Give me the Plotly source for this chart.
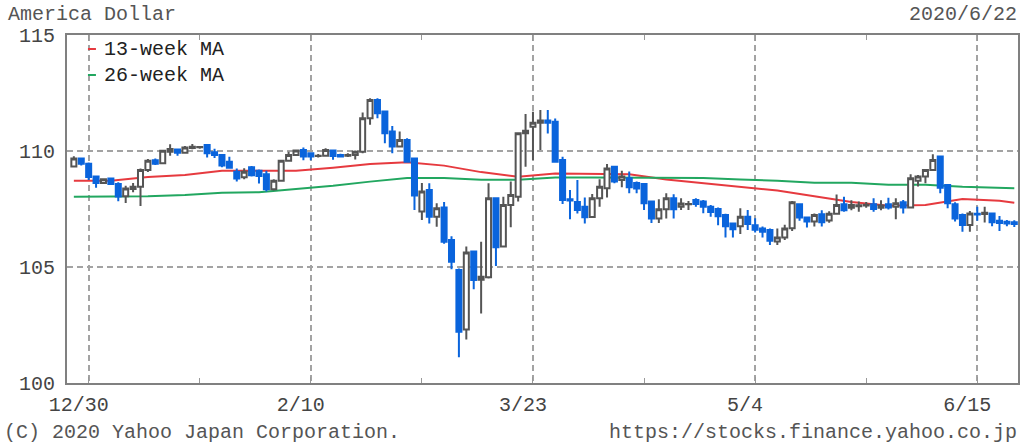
import pandas as pd
import plotly.graph_objects as go

# ---------------- data ----------------
dates = [d.strftime('%Y-%m-%d') for d in pd.bdate_range('2019-12-26', '2020-06-22')]

open_ = [
    109.33, 109.68,
    109.45, 108.90, 108.62, 108.82, 108.58,
    108.05, 108.36, 108.46, 109.18, 109.60,
    109.47, 109.97, 110.06, 109.92, 110.13,
    110.16, 110.26, 109.95, 109.83, 109.54,
    109.11, 108.87, 109.30, 109.15, 109.00,
    108.35, 108.72, 109.58, 109.83, 110.04,
    109.90, 109.78, 109.80, 110.02, 109.83,
    109.80, 109.83, 109.97, 111.41, 112.20,
    111.70, 110.84, 110.19, 110.47, 109.68,
    107.39, 108.32, 107.17, 107.57, 106.16,
    104.87, 102.31, 105.67, 104.45, 104.56,
    107.96, 105.88, 107.67, 108.03, 110.76,
    111.05, 111.22, 111.31, 111.26, 109.61,
    107.92, 107.80, 107.60, 107.16, 107.96,
    108.39, 109.32, 108.75, 108.83, 108.62,
    108.58, 107.82, 107.09, 107.49, 107.96,
    107.60, 107.70, 107.89, 107.82, 107.60,
    107.50, 107.24, 106.87, 106.76, 107.17,
    106.80, 106.66, 106.59, 106.10, 106.27,
    106.67, 107.70, 107.13, 106.96, 107.27,
    107.00, 107.30, 107.70, 107.55, 107.62,
    107.65, 107.70, 107.55, 107.70, 107.60,
    107.79, 107.56, 108.72, 108.90, 109.18,
    109.76, 108.53, 107.70, 107.24, 106.81,
    107.30, 107.28, 107.31, 106.99, 106.95,
    106.93,
]
high = [
    109.77, 109.72,
    109.50, 108.92, 108.82, 108.86, 108.65,
    108.50, 108.62, 109.25, 109.66, 109.68,
    110.05, 110.29, 110.08, 110.22, 110.30,
    110.22, 110.28, 110.10, 109.85, 109.75,
    109.25, 109.26, 109.35, 109.20, 109.15,
    108.78, 109.62, 109.97, 110.05, 110.15,
    109.95, 109.87, 110.12, 110.05, 109.88,
    109.90, 110.02, 111.66, 112.27, 112.27,
    111.70, 111.08, 110.84, 110.55, 109.70,
    108.62, 108.61, 107.75, 107.80, 106.33,
    104.94, 105.88, 105.71, 106.09, 108.61,
    107.96, 108.03, 108.68, 110.80, 111.59,
    111.69, 111.77, 111.77, 111.40, 109.75,
    108.32, 108.75, 108.00, 108.15, 108.78,
    109.44, 109.35, 109.15, 109.12, 108.68,
    108.60, 107.82, 107.92, 108.18, 108.14,
    107.96, 107.85, 107.96, 107.89, 107.67,
    107.56, 107.30, 106.92, 107.53, 107.46,
    107.10, 106.75, 106.66, 106.66, 106.82,
    107.85, 107.70, 107.17, 107.31, 107.45,
    107.40, 108.13, 108.03, 107.88, 107.82,
    107.80, 107.96, 107.88, 107.99, 107.96,
    107.89, 109.00, 108.97, 109.22, 109.86,
    109.76, 108.56, 107.79, 107.31, 107.41,
    107.60, 107.60, 107.31, 107.20, 107.03,
    107.02,
]
low = [
    109.30, 109.38,
    108.75, 108.42, 108.58, 108.54, 107.83,
    107.76, 108.22, 107.63, 109.10, 109.40,
    109.44, 109.79, 109.80, 109.88, 110.08,
    110.10, 109.72, 109.70, 109.30, 109.25,
    108.68, 108.78, 108.90, 108.60, 108.25,
    108.30, 108.68, 109.55, 109.80, 109.60,
    109.60, 109.72, 109.75, 109.62, 109.72,
    109.74, 109.63, 109.90, 111.13, 111.41,
    110.33, 109.90, 110.16, 109.50, 107.46,
    107.03, 106.88, 106.74, 106.00, 104.90,
    101.11, 101.88, 104.04, 103.00, 104.50,
    105.04, 105.85, 106.71, 107.82, 109.32,
    109.61, 110.04, 110.75, 109.54, 107.72,
    107.06, 107.31, 106.88, 107.14, 107.60,
    108.00, 108.61, 108.44, 108.18, 108.18,
    107.46, 106.90, 106.90, 107.09, 107.09,
    107.46, 107.46, 107.60, 107.32, 107.17,
    106.80, 106.27, 106.27, 106.42, 106.59,
    106.49, 106.27, 105.95, 105.95, 106.16,
    106.55, 106.99, 106.70, 106.75, 106.75,
    106.91, 107.30, 107.38, 107.45, 107.38,
    107.55, 107.38, 107.45, 107.48, 107.06,
    107.31, 107.53, 108.47, 108.61, 109.18,
    108.18, 107.53, 106.96, 106.52, 106.52,
    106.99, 106.92, 106.76, 106.55, 106.76,
    106.72,
]
close = [
    109.68, 109.45,
    108.88, 108.62, 108.78, 108.58, 108.04,
    108.38, 108.46, 109.18, 109.58, 109.45,
    110.01, 110.09, 109.92, 110.15, 110.18,
    110.17, 109.90, 109.83, 109.37, 109.28,
    108.82, 109.11, 108.95, 108.92, 108.35,
    108.72, 109.58, 109.83, 110.02, 109.76,
    109.76, 109.80, 110.04, 109.78, 109.76,
    109.83, 109.97, 111.41, 112.20, 111.63,
    110.77, 110.19, 110.47, 109.54, 108.08,
    108.25, 107.17, 107.53, 106.09, 105.23,
    102.21, 105.62, 104.44, 104.58, 107.96,
    105.85, 107.67, 108.10, 110.76, 110.87,
    111.22, 111.31, 111.22, 109.54, 107.89,
    107.87, 107.46, 107.14, 107.96, 108.46,
    109.25, 108.68, 108.90, 108.44, 108.38,
    107.75, 107.09, 107.49, 107.96, 107.49,
    107.74, 107.72, 107.72, 107.60, 107.37,
    107.19, 106.76, 106.63, 107.17, 106.85,
    106.61, 106.52, 106.13, 106.27, 106.66,
    107.79, 107.13, 106.96, 107.24, 106.93,
    107.30, 107.67, 107.45, 107.67, 107.66,
    107.68, 107.50, 107.65, 107.56, 107.75,
    107.56, 108.83, 108.90, 109.18, 109.61,
    108.42, 107.75, 107.09, 106.81, 107.31,
    107.26, 107.34, 106.93, 106.90, 106.88,
    106.85,
]

ma_dates = ['2019-12-26', '2020-01-02', '2020-01-09', '2020-01-16', '2020-01-23',
            '2020-01-30', '2020-02-06', '2020-02-13', '2020-02-20', '2020-02-27',
            '2020-03-05', '2020-03-12', '2020-03-19', '2020-03-26', '2020-04-02',
            '2020-04-09', '2020-04-16', '2020-04-23', '2020-04-30', '2020-05-07',
            '2020-05-14', '2020-05-21', '2020-05-28', '2020-06-04', '2020-06-11',
            '2020-06-18', '2020-06-22']
ma13 = [108.72, 108.72, 108.88, 108.97, 109.15, 109.15, 109.15, 109.28, 109.44,
        109.51, 109.37, 109.09, 108.89, 109.03, 109.00, 109.00, 108.77, 108.61,
        108.44, 108.30, 108.05, 107.80, 107.64, 107.67, 107.93, 107.86, 107.77]
ma26 = [108.03, 108.03, 108.05, 108.10, 108.20, 108.22, 108.35, 108.50, 108.68,
        108.84, 108.84, 108.76, 108.76, 108.86, 108.86, 108.86, 108.86, 108.84,
        108.77, 108.72, 108.63, 108.63, 108.55, 108.55, 108.46, 108.40, 108.39]

tick_dates = ['2019-12-30', '2020-02-10', '2020-03-23', '2020-05-04', '2020-06-15']
tick_text = ['12/30', '2/10', '3/23', '5/4', '6/15']
minor_dates = ['2020-01-20', '2020-03-02', '2020-04-13', '2020-05-25']
y_ticks = [100, 105, 110, 115]

# ---------------- figure ----------------
x_idx = list(range(len(dates)))
ma_x = [dates.index(d) for d in ma_dates]
tick_x = [dates.index(d) for d in tick_dates]
minor_x = [dates.index(d) for d in minor_dates]

W, H = 1024, 444
L, R, T, B = 67, 4, 35, 61
PW, PH = W - L - R, H - T - B


def px(xp):
    return (xp - L) / PW


def py(yp):
    return (H - B - yp) / PH


FONT = 'Liberation Mono, DejaVu Sans Mono, monospace'
RED = '#e63a3f'
GREEN = '#22a760'
BLUE = '#0a64dc'
GRAY = '#555555'
FS = 20

fig = go.Figure()
fig.add_trace(go.Scatter(x=ma_x, y=ma13, mode='lines', name='13-week MA',
                         line=dict(color=RED, width=2), hoverinfo='skip'))
fig.add_trace(go.Scatter(x=ma_x, y=ma26, mode='lines', name='26-week MA',
                         line=dict(color=GREEN, width=2), hoverinfo='skip'))
fig.add_trace(go.Candlestick(
    x=x_idx, open=open_, high=high, low=low, close=close,
    xaxis='x2', yaxis='y2', whiskerwidth=0, hoverinfo='skip',
    increasing=dict(line=dict(color=GRAY, width=2), fillcolor='#ffffff'),
    decreasing=dict(line=dict(color=BLUE, width=2), fillcolor=BLUE),
))

xr = [-0.925, 127.5]
yr = [100, 115]
grid = dict(showgrid=True, gridcolor='#a3a3a3', gridwidth=2, griddash='6px,4px')

fig.update_layout(
    width=W, height=H,
    margin=dict(l=L, r=R, t=T, b=B),
    paper_bgcolor='white', plot_bgcolor='white',
    showlegend=False,
    boxgap=0.03,
    font=dict(family=FONT, size=FS, color='#444444'),
    xaxis=dict(range=xr, tickmode='array', tickvals=tick_x, ticktext=tick_text,
               ticks='inside', ticklen=6, tickwidth=1, tickcolor='#999999',
               showline=True, linecolor='#808080', linewidth=2, mirror='ticks',
               zeroline=False, ticklabelshift=-10, ticklabelstandoff=2,
               minor=dict(tickmode='array', tickvals=minor_x, ticks='inside',
                          ticklen=5, tickcolor='#999999', showgrid=False),
               rangeslider=dict(visible=False), **grid),
    yaxis=dict(range=yr, tickmode='array', tickvals=y_ticks, ticks='',
               showline=True, linecolor='#808080', linewidth=2, mirror=True,
               zeroline=False, ticklabelstandoff=6, **grid),
    xaxis2=dict(range=xr, overlaying='x', visible=False,
                rangeslider=dict(visible=False)),
    yaxis2=dict(range=yr, overlaying='y', visible=False),
)

ann_font = dict(family=FONT, size=FS, color='#555555')
leg_font = dict(family=FONT, size=FS, color='#222222')
fig.add_annotation(text='America Dollar', xref='paper', yref='paper', x=px(6), y=py(14),
                   xanchor='left', yanchor='middle', showarrow=False, font=ann_font)
fig.add_annotation(text='2020/6/22', xref='paper', yref='paper', x=px(1021), y=py(14),
                   xanchor='right', yanchor='middle', showarrow=False, font=ann_font)
fig.add_annotation(text='(C) 2020 Yahoo Japan Corporation.', xref='paper', yref='paper',
                   x=px(2), y=py(432), xanchor='left', yanchor='middle',
                   showarrow=False, font=ann_font)
fig.add_annotation(text='https://stocks.finance.yahoo.co.jp', xref='paper', yref='paper',
                   x=px(1021), y=py(432), xanchor='right', yanchor='middle',
                   showarrow=False, font=ann_font)

for label, color, yy in [('13-week MA', RED, 49), ('26-week MA', GREEN, 75)]:
    fig.add_shape(type='line', xref='paper', yref='paper', x0=px(88), x1=px(96),
                  y0=py(yy), y1=py(yy), line=dict(color=color, width=2))
    fig.add_annotation(text=label, xref='paper', yref='paper', x=px(102), y=py(yy),
                       xanchor='left', yanchor='middle', showarrow=False, font=leg_font)

fig.write_html('out.html',
               config={'displayModeBar': False, 'staticPlot': True},
               post_script="document.body.style.margin='0';"
                           "document.body.style.padding='0';"
                           "document.body.style.overflow='hidden';")
